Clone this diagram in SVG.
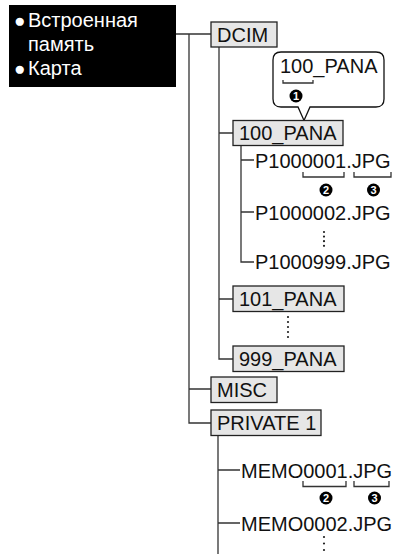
<svg xmlns="http://www.w3.org/2000/svg" width="393" height="554" viewBox="0 0 393 554">
<style>
text{font-family:"Liberation Sans",Arial,Helvetica,sans-serif;font-size:20px;fill:#111}
.box{fill:#e6e6e6;stroke:#222;stroke-width:1.3}
.ln{fill:none;stroke:#333;stroke-width:1.3}
.dots{fill:none;stroke:#222;stroke-width:2.2;stroke-linecap:round}
.num{font-size:11px;font-weight:bold;fill:#fff;text-anchor:middle}
.wt{fill:#fff}
.bul{font-size:19px}
</style>
<rect width="393" height="554" fill="#fff"/>
<g id="storage">
<rect x="9" y="5" width="167" height="82" fill="#000"/>
<text class="wt" x="14" y="27"><tspan class="bul">●</tspan><tspan x="28">Встроенная</tspan></text>
<text class="wt" x="28" y="51">память</text>
<text class="wt" x="14" y="75"><tspan class="bul">●</tspan><tspan x="28">Карта</tspan></text>
</g>
<g id="connectors">
<path class="ln" d="M176 34H211M189 34V423H211M189 389H211"/>
<path class="ln" d="M219 46V359H233M219 133H233M219 299H233"/>
<path class="ln" d="M241 145.5V262H254M241 160H254M241 212H254"/>
<path class="ln" d="M218 435V554M218 470H240M218 523H240"/>
<path class="dots" d="M324 232V247" stroke-dasharray="0 4.6"/>
<path class="dots" d="M288 317V338" stroke-dasharray="0 5"/>
<path class="dots" d="M324 537V554" stroke-dasharray="0 6.5"/>
</g>
<g id="callout">
<path d="M281 52H376Q384 52 384 60V99Q384 107 376 107H310L304 120.5L298 107H281Q273 107 273 99V60Q273 52 281 52Z" fill="#fff" stroke="#111" stroke-width="1.3"/>
<text x="280" y="73">100_PANA</text>
<path class="ln" d="M283 80V83H313V80"/>
<circle cx="296" cy="96" r="6.5" fill="#000"/>
<text class="num" x="296" y="100">1</text>
</g>
<g id="dcim">
<rect class="box" x="211" y="22" width="66" height="25"/>
<text x="217" y="41.5">DCIM</text>
</g>
<g id="pana100">
<rect class="box" x="233" y="120.5" width="110" height="25"/>
<text x="239" y="140">100_PANA</text>
</g>
<g id="file1">
<text x="255" y="168">P1000001.JPG</text>
<path class="ln" d="M303 172V177H344V172M354 172V177H391V172"/>
<circle cx="326" cy="190" r="6.5" fill="#000"/>
<text class="num" x="326" y="194">2</text>
<circle cx="373.5" cy="190" r="6.5" fill="#000"/>
<text class="num" x="373.5" y="194">3</text>
</g>
<g id="file2">
<text x="255" y="220">P1000002.JPG</text>
</g>
<g id="file999">
<text x="255" y="269">P1000999.JPG</text>
</g>
<g id="pana101">
<rect class="box" x="233" y="286" width="111" height="25.5"/>
<text x="239" y="305.5">101_PANA</text>
</g>
<g id="pana999">
<rect class="box" x="233" y="346" width="111" height="25.5"/>
<text x="239" y="365.5">999_PANA</text>
</g>
<g id="misc">
<rect class="box" x="211" y="377" width="66" height="25.5"/>
<text x="217" y="396.5">MISC</text>
</g>
<g id="private1">
<rect class="box" x="211" y="410" width="110" height="25.5"/>
<text x="217" y="430">PRIVATE 1</text>
</g>
<g id="memo1">
<text x="241" y="478">MEMO0001.JPG</text>
<path class="ln" d="M303 481V486.5H346V481M354 481V486.5H389V481"/>
<circle cx="326" cy="498" r="6.5" fill="#000"/>
<text class="num" x="326" y="502">2</text>
<circle cx="374.5" cy="498" r="6.5" fill="#000"/>
<text class="num" x="374.5" y="502">3</text>
</g>
<g id="memo2">
<text x="241" y="531">MEMO0002.JPG</text>
</g>
</svg>
